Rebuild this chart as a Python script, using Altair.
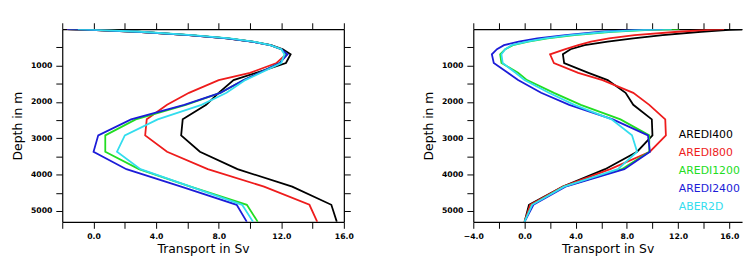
import altair as alt
import pandas as pd

# Model depth levels (m)
depths = [0, 20, 70, 160, 250, 340, 440, 550, 690, 930, 1200, 1400, 1750,
          2080, 2480, 2920, 3370, 3850, 4330, 4830, 5300]

runs = ["AREDI400", "AREDI800", "AREDI1200", "AREDI2400", "ABER2D"]
colors = ["#000000", "#ee1c1c", "#22dd22", "#1c1cd8", "#33ddee"]

# Left panel: transport profiles (Sv)
left_aredi400 = [-1.7, -0.2, 2.8, 6.1, 8.55, 10.15, 11.35, 12.1, 12.6, 12.3, 10.4, 8.95, 8.0, 7.2, 5.7, 5.6, 6.8, 9.2, 12.7, 15.2, 15.55]
left_aredi800 = [-1.7, -0.2, 2.8, 6.1, 8.55, 10.1, 11.3, 12.0, 12.3, 11.7, 10.0, 8.0, 6.1, 4.7, 3.4, 3.3, 4.7, 7.3, 10.9, 13.8, 14.3]
left_aredi1200 = [-1.6, -0.1, 2.9, 6.2, 8.6, 10.15, 11.3, 12.0, 12.35, 11.9, 10.6, 9.6, 8.1, 5.9, 2.7, 0.75, 0.75, 2.9, 6.2, 9.8, 10.5]
left_aredi2400 = [-1.7, -0.2, 2.8, 6.1, 8.5, 10.1, 11.3, 12.0, 12.4, 11.9, 10.6, 9.6, 8.1, 5.8, 2.4, 0.3, 0.0, 2.1, 5.6, 9.15, 9.8]
left_aber2d = [-1.0, 0.1, 3.0, 6.3, 8.7, 10.2, 11.3, 12.0, 12.2, 12.0, 10.7, 9.7, 8.5, 6.9, 4.1, 2.0, 1.5, 3.0, 6.2, 9.5, 10.2]

# Right panel: transport profiles (Sv)
right_aredi400 = [17.3, 16.0, 13.8, 10.8, 8.5, 6.5, 4.7, 3.6, 3.0, 3.1, 5.0, 6.5, 7.9, 8.5, 9.95, 10.0, 8.8, 6.3, 3.0, 0.35, 0.0]
right_aredi800 = [15.6, 14.3, 12.0, 8.6, 6.6, 5.2, 4.2, 3.2, 2.0, 2.3, 4.2, 6.1, 8.5, 9.75, 11.0, 11.05, 9.8, 6.7, 3.0, 0.45, 0.0]
right_aredi1200 = [12.1, 9.8, 6.8, 3.9, 1.8, 0.3, -0.9, -1.5, -1.9, -1.8, -0.5, 0.2, 2.3, 4.4, 7.5, 9.75, 9.75, 7.6, 3.1, 0.6, 0.0]
right_aredi2400 = [10.8, 8.6, 6.0, 3.2, 1.0, -0.45, -1.6, -2.15, -2.55, -2.4, -1.3, -0.5, 1.3, 3.5, 6.9, 9.65, 9.8, 7.8, 3.2, 0.7, 0.0]
right_aber2d = [11.5, 9.3, 6.5, 3.6, 1.6, 0.2, -1.0, -1.5, -1.8, -1.7, -0.7, 0.0, 1.9, 3.9, 6.8, 8.4, 8.8, 7.3, 3.1, 0.6, 0.0]

left_series = [left_aredi400, left_aredi800, left_aredi1200, left_aredi2400, left_aber2d]
right_series = [right_aredi400, right_aredi800, right_aredi1200, right_aredi2400, right_aber2d]


def long_table(series):
    rows = []
    for name, vals in zip(runs, series):
        for d, v in zip(depths, vals):
            rows.append({"run": name, "depth": d, "transport": v})
    return pd.DataFrame(rows)


FONT = "DejaVu Sans"
depth_ticks = list(range(500, 5001, 500))
depth_scale = alt.Scale(domain=[0, 5300], reverse=True, nice=False, zero=False)
color_scale = alt.Scale(domain=runs, range=colors)

axis_style = dict(
    domainColor="black", domainWidth=1.2, tickColor="black", tickWidth=1,
    tickSize=6.5, grid=False, labelFont=FONT, labelFontSize=7.8,
    labelFontWeight="bold", labelColor="black", labelOverlap=False,
    labelFlush=False, titleFont=FONT, titleFontSize=12.5,
    titleFontWeight="normal", titleColor="black",
)


def x_axis(orient, ticks, show_labels):
    kw = dict(axis_style)
    if show_labels:
        kw.update(labelExpr="datum.value % 4 === 0 ? format(datum.value, '.1f') : ''",
                  labelPadding=4, title="Transport in Sv", titlePadding=3)
    else:
        kw.update(labels=False, title="")
    return alt.Axis(orient=orient, values=ticks, **kw)


def y_axis(orient, show_labels):
    kw = dict(axis_style)
    if show_labels:
        kw.update(labelExpr="datum.value % 1000 === 0 ? '' + datum.value : ''",
                  labelPadding=4, title="Depth in m", titlePadding=6)
    else:
        kw.update(labels=False, title="")
    return alt.Axis(orient=orient, values=depth_ticks, **kw)


def panel(series, xdomain, width, right_frame, legend):
    df = long_table(series)
    xticks = list(range(xdomain[0], 17, 2))
    xs = alt.Scale(domain=xdomain, nice=False, zero=False)
    lines = alt.Chart(df).mark_line(strokeWidth=1.8, clip=True).encode(
        x=alt.X("transport:Q", scale=xs, axis=x_axis("bottom", xticks, True)),
        y=alt.Y("depth:Q", scale=depth_scale, axis=y_axis("left", True)),
        color=alt.Color("run:N", scale=color_scale, legend=None),
        order=alt.Order("depth:Q"),
    )
    frame_enc = dict(
        x=alt.X("transport:Q", scale=xs, axis=x_axis("top", xticks, False)),
        order=alt.Order("depth:Q"),
    )
    if right_frame:
        frame_enc["y"] = alt.Y("depth:Q", scale=depth_scale, axis=y_axis("right", False))
    else:
        frame_enc["y"] = alt.Y("depth:Q", scale=depth_scale, axis=None)
    frame = alt.Chart(df).mark_line(opacity=0).encode(**frame_enc)
    layers = [lines, frame]
    if legend:
        for i, (name, col) in enumerate(zip(runs, colors)):
            layers.append(
                alt.Chart(pd.DataFrame({"label": [name]})).mark_text(
                    align="left", baseline="middle", font=FONT, fontSize=11,
                    color=col,
                ).encode(
                    x=alt.value(208), y=alt.value(107 + i * 18.3),
                    text="label:N",
                )
            )
    return alt.layer(*layers).resolve_axis(x="independent", y="independent").properties(
        width=width, height=195
    )


left = panel(left_series, [-2, 16], 285, True, False)
right = panel(right_series, [-4, 17], 272, False, True)

chart = alt.hconcat(left, right, spacing=69).properties(
    padding={"left": 11, "top": 21, "right": 0, "bottom": 0},
    background="white",
).configure_view(stroke=None)

chart.save("out.html", embed_options={"renderer": "svg", "actions": False})
